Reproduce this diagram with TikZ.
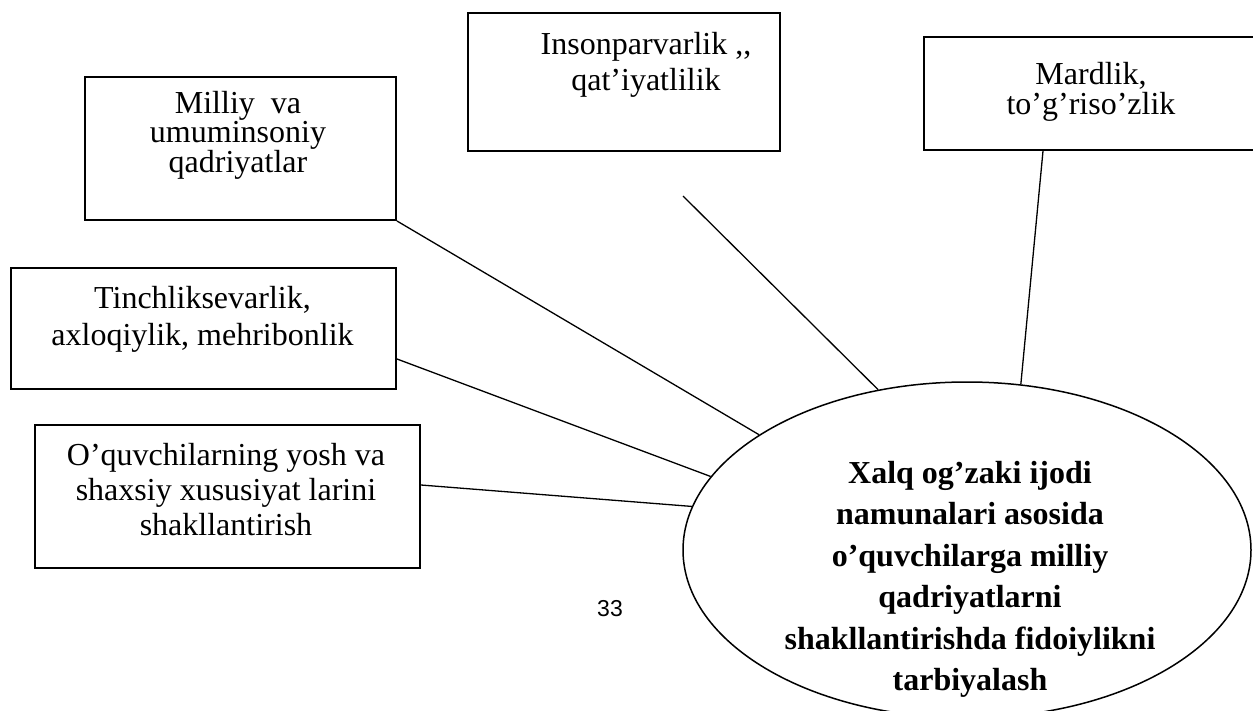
\documentclass[tikz,border=0pt]{standalone}
\usepackage{fontspec}
\setmainfont{Liberation Serif}
\newfontfamily\numfont{Liberation Sans}
\usetikzlibrary{shapes.geometric}

\begin{document}
\begin{tikzpicture}[x=1pt,y=-1pt,
  box/.style={draw, rectangle, line width=2pt, inner sep=0pt, anchor=north west},
  txt/.style={inner sep=0pt, align=center, anchor=north},
  link/.style={draw, line width=1.3pt}]
\useasboundingbox (0,0) rectangle (1253,710);
\clip (0,0) rectangle (1253,710);
\node (milliy) [box, minimum width=311, minimum height=143] at (84,76) {};
\node (tinch) [box, minimum width=385, minimum height=121] at (10,267) {};
\node (oq) [box, minimum width=385, minimum height=143] at (34,424) {};
\node (inson) [box, minimum width=312, minimum height=138] at (467,12) {};
\node (mardlik) [box, minimum width=370, minimum height=113] at (923,36) {};
\node (markaz) [ellipse, draw, line width=1.5pt, inner sep=0pt,
  minimum width=568, minimum height=336] at (967,550) {};
\node (milliyT) [txt, font=\fontsize{32}{28}\selectfont] at (238,91)
  {Milliy\ \ va\\umuminsoniy\\qadriyatlar};
\node (tinchT) [txt, font=\fontsize{32}{37}\selectfont] at (202.5,286)
  {Tinchliksevarlik,\\axloqiylik, mehribonlik};
\node (oqT) [txt, font=\fontsize{32}{35}\selectfont] at (226,443)
  {O’quvchilarning yosh va\\shaxsiy xususiyat larini\\shakllantirish};
\node (insonT) [txt, font=\fontsize{32}{36}\selectfont] at (646,32)
  {Insonparvarlik ,{},\\qat’iyatlilik};
\node (mardlikT) [txt, font=\fontsize{32}{30}\selectfont] at (1091,62)
  {Mardlik,\\to’g’riso’zlik};
\node (markazT) [txt, font=\fontsize{32}{41.5}\selectfont\bfseries] at (970,461)
  {Xalq og’zaki ijodi\\namunalari asosida\\o’quvchilarga milliy\\qadriyatlarni\\shakllantirishda fidoiylikni\\tarbiyalash};
\node (pagenum) [font=\numfont\fontsize{23}{23}\selectfont, inner sep=0pt] at (610,609) {33};
\coordinate (insonEnd) at (683,196);
\draw [link] (milliy.south east) -- (markaz.151.7);
\draw [link] ([yshift=-30.5pt]tinch.east) -- (markaz.164.3);
\draw [link] ([yshift=11.5pt]oq.east) -- (markaz.171.4);
\draw [link] (insonEnd) -- (markaz.119.6);
\draw [link] ([xshift=120pt]mardlik.south west) -- (markaz.72.4);
\end{tikzpicture}
\end{document}
